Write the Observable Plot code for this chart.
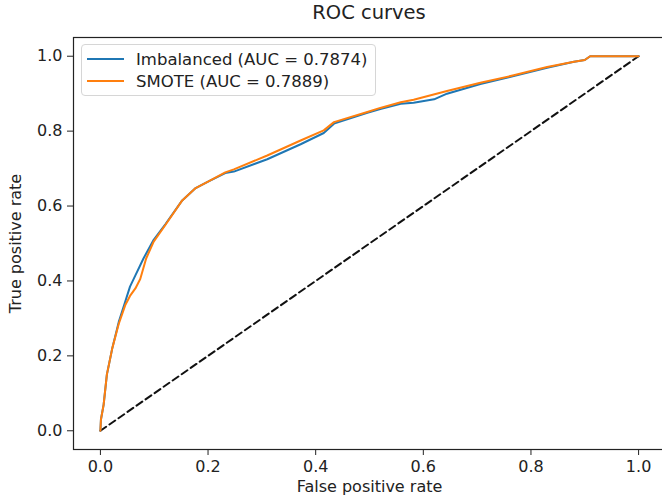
<!DOCTYPE html>
<html>
<head>
<meta charset="utf-8">
<script src="https://cdn.jsdelivr.net/npm/d3@7"></script>
<script src="https://cdn.jsdelivr.net/npm/@observablehq/plot@0.6"></script>
<style>
  html, body { margin: 0; padding: 0; background: #fff; overflow: hidden; }
  #wrap { position: relative; width: 662px; height: 495px; overflow: hidden; font-family: "DejaVu Sans", sans-serif; color: #222; }
  #title { position: absolute; left: 73px; width: 592px; top: 0; height: 25px; line-height: 25px; text-align: center; font-size: 19.5px; }
  #legend { position: absolute; left: 81px; top: 44px; padding: 3px 8px 3px 5px; border: 1px solid #d6d6d6; border-radius: 4px; background: rgba(255,255,255,0.85); font-size: 16.5px; }
  .row { display: flex; align-items: center; height: 22px; }
  .sw { width: 37px; height: 2px; margin-right: 12px; }
  #chart { position: absolute; left: 0; top: 0; width: 670px; }
</style>
</head>
<body>
<div id="wrap">
  <div id="chart"></div>
  <div id="title"></div>
  <div id="legend"></div>
</div>
<script>
const titleText = "ROC curves";
const xLabel = "False positive rate";
const yLabel = "True positive rate";
const xTicks = [0, 0.2, 0.4, 0.6, 0.8, 1.0];
const yTicks = [0, 0.2, 0.4, 0.6, 0.8, 1.0];
const seriesNames = ["Imbalanced (AUC = 0.7874)", "SMOTE (AUC = 0.7889)"];
const seriesColors = ["#1f77b4", "#ff7f0e"];

const imbalancedFpr = [0, 0.001, 0.006, 0.012, 0.022, 0.034, 0.045, 0.055, 0.065, 0.08, 0.099, 0.121, 0.152, 0.177, 0.2, 0.232, 0.248, 0.31, 0.372, 0.415, 0.434, 0.496, 0.52, 0.558, 0.582, 0.62, 0.644, 0.706, 0.768, 0.83, 0.88, 0.9, 0.91, 1];
const imbalancedTpr = [0, 0.03, 0.07, 0.15, 0.22, 0.29, 0.34, 0.385, 0.415, 0.46, 0.51, 0.552, 0.615, 0.648, 0.665, 0.688, 0.692, 0.725, 0.765, 0.795, 0.82, 0.849, 0.859, 0.873, 0.876, 0.885, 0.9, 0.926, 0.947, 0.969, 0.985, 0.99, 1.0, 1];

const smoteFpr = [0, 0.001, 0.006, 0.012, 0.022, 0.034, 0.046, 0.055, 0.065, 0.074, 0.085, 0.099, 0.121, 0.152, 0.177, 0.2, 0.232, 0.248, 0.31, 0.372, 0.415, 0.434, 0.496, 0.52, 0.558, 0.582, 0.644, 0.706, 0.768, 0.83, 0.88, 0.9, 0.91, 1];
const smoteTpr = [0, 0.03, 0.07, 0.15, 0.22, 0.285, 0.335, 0.36, 0.38, 0.405, 0.46, 0.505, 0.55, 0.615, 0.648, 0.665, 0.69, 0.698, 0.735, 0.775, 0.802, 0.824, 0.851, 0.862, 0.877, 0.884, 0.907, 0.929, 0.949, 0.971, 0.985, 0.99, 1.0, 1];

const diagX = [0, 1];
const diagY = [0, 1];

const imb = imbalancedFpr.map((x, i) => ({x, y: imbalancedTpr[i]}));
const smo = smoteFpr.map((x, i) => ({x, y: smoteTpr[i]}));
const diag = diagX.map((x, i) => ({x, y: diagY[i]}));

const fmt = d3.format(".1f");

const plot = Plot.plot({
  width: 670,
  height: 495,
  marginLeft: 73,
  marginRight: 5,
  marginTop: 37,
  marginBottom: 46,
  style: {fontFamily: "DejaVu Sans, sans-serif", fontSize: "16px", color: "#222", background: "transparent", maxWidth: "none"},
  x: {domain: [-0.05, 1.05], ticks: xTicks, tickFormat: fmt, tickSize: 6, tickPadding: 5, label: xLabel, labelAnchor: "center", labelArrow: "none", labelOffset: 42},
  y: {domain: [-0.05, 1.05], ticks: yTicks, tickFormat: fmt, tickSize: 6, tickPadding: 5, label: yLabel, labelAnchor: "center", labelArrow: "none", labelOffset: 64},
  marks: [
    Plot.line(diag, {x: "x", y: "y", stroke: "#111", strokeWidth: 2, strokeDasharray: "7,4"}),
    Plot.line(imb, {x: "x", y: "y", stroke: seriesColors[0], strokeWidth: 2}),
    Plot.line(smo, {x: "x", y: "y", stroke: seriesColors[1], strokeWidth: 2}),
    Plot.frame({stroke: "#222", strokeWidth: 1.2})
  ]
});
plot.style.maxWidth = "none";
document.getElementById("chart").appendChild(plot);
document.getElementById("title").textContent = titleText;

const leg = document.getElementById("legend");
seriesNames.forEach((name, i) => {
  const row = document.createElement("div");
  row.className = "row";
  const sw = document.createElement("div");
  sw.className = "sw";
  sw.style.background = seriesColors[i];
  const t = document.createElement("span");
  t.textContent = name;
  row.appendChild(sw);
  row.appendChild(t);
  leg.appendChild(row);
});
</script>
</body>
</html>
